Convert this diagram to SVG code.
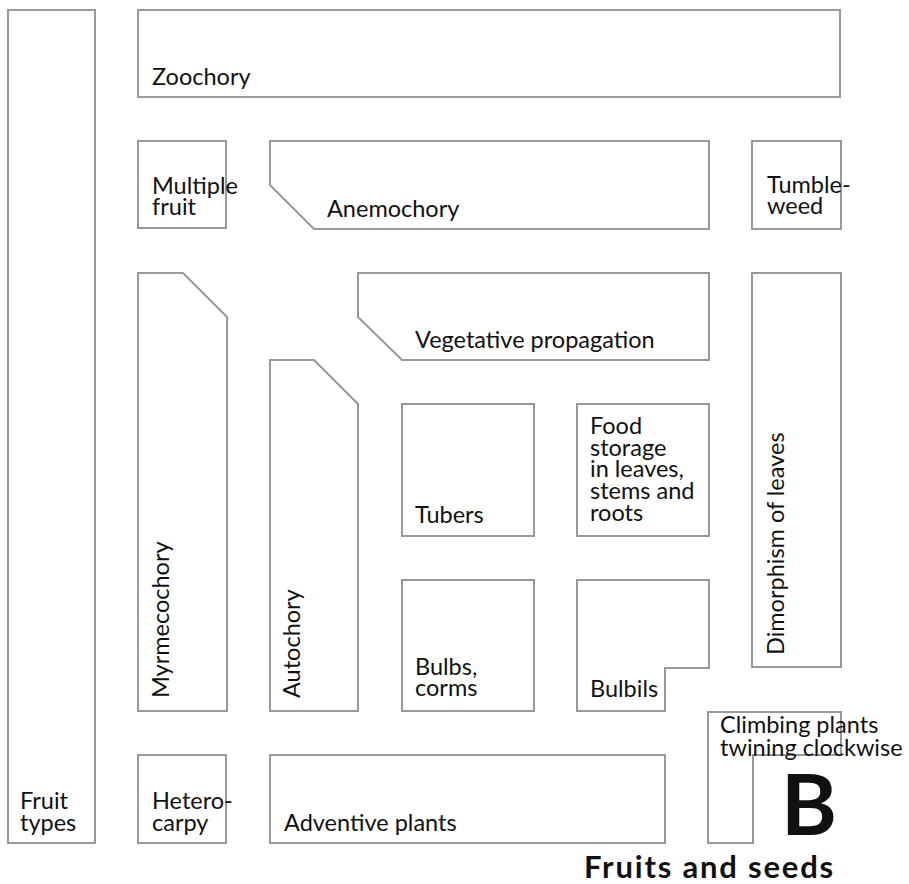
<svg xmlns="http://www.w3.org/2000/svg" width="909" height="884" viewBox="0 0 909 884">
<style>
.b{fill:#fff;stroke:#999;stroke-width:2}
.t{font-family:Lato,"Open Sans","Liberation Sans",sans-serif;font-size:23.5px;fill:#111}
.big{font-family:Lato,"Open Sans","Liberation Sans",sans-serif;font-weight:bold;fill:#111}
</style>
<rect width="909" height="884" fill="#fff"/>
<g id="fruit-types"><rect class="b" x="8" y="10" width="87" height="833"/><text class="t"><tspan x="20" y="809">Fruit</tspan><tspan x="20" y="831">types</tspan></text></g>
<g id="zoochory"><rect class="b" x="138" y="10" width="702" height="87"/><text class="t" x="152" y="85">Zoochory</text></g>
<g id="multiple-fruit"><rect class="b" x="138" y="141" width="88" height="87"/><text class="t"><tspan x="152" y="194">Multiple</tspan><tspan x="152" y="215">fruit</tspan></text></g>
<g id="anemochory"><polygon class="b" points="270,141 709,141 709,229 314,229 270,185"/><text class="t" x="327" y="217">Anemochory</text></g>
<g id="tumbleweed"><rect class="b" x="752" y="141" width="89" height="88"/><text class="t"><tspan x="767" y="193">Tumble-</tspan><tspan x="767" y="214">weed</tspan></text></g>
<g id="vegetative-propagation"><polygon class="b" points="358,273 709,273 709,360 402,360 358,317"/><text class="t" x="415" y="348">Vegetative propagation</text></g>
<g id="dimorphism"><rect class="b" x="752" y="273" width="89" height="394"/><text class="t" transform="translate(784,655) rotate(-90)">Dimorphism of leaves</text></g>
<g id="myrmecochory"><polygon class="b" points="138,273 183,273 227,317 227,711 138,711"/><text class="t" transform="translate(169,698) rotate(-90)">Myrmecochory</text></g>
<g id="autochory"><polygon class="b" points="270,360 314,360 358,404 358,711 270,711"/><text class="t" transform="translate(300,698) rotate(-90)">Autochory</text></g>
<g id="tubers"><rect class="b" x="402" y="404" width="132" height="132"/><text class="t" x="415" y="523">Tubers</text></g>
<g id="food-storage"><rect class="b" x="577" y="404" width="132" height="132"/><text class="t"><tspan x="590" y="434">Food</tspan><tspan x="590" y="456">storage</tspan><tspan x="590" y="477">in leaves,</tspan><tspan x="590" y="499">stems and</tspan><tspan x="590" y="521">roots</tspan></text></g>
<g id="bulbs-corms"><rect class="b" x="402" y="580" width="132" height="131"/><text class="t"><tspan x="415" y="675">Bulbs,</tspan><tspan x="415" y="696">corms</tspan></text></g>
<g id="bulbils"><polygon class="b" points="577,580 709,580 709,668 665,668 665,711 577,711"/><text class="t" x="590" y="697">Bulbils</text></g>
<g id="climbing"><polygon class="b" points="708,712 841,712 841,755 753,755 753,843 708,843"/><text class="t"><tspan x="720" y="733">Climbing plants</tspan><tspan x="720" y="756">twining clockwise</tspan></text></g>
<g id="heterocarpy"><rect class="b" x="138" y="755" width="88" height="88"/><text class="t"><tspan x="152" y="809">Hetero-</tspan><tspan x="152" y="831">carpy</tspan></text></g>
<g id="adventive"><rect class="b" x="270" y="755" width="395" height="88"/><text class="t" x="284" y="831">Adventive plants</text></g>
<g id="connectors"></g>
<text class="big" x="781" y="835" font-size="85">B</text>
<text class="big" x="584" y="878" font-size="31" letter-spacing="1.8">Fruits and seeds</text>
</svg>
